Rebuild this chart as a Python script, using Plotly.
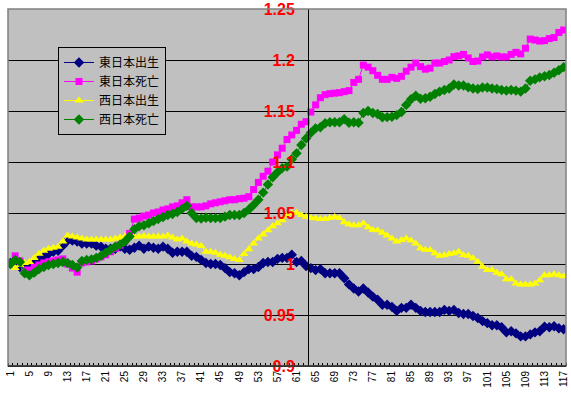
import plotly.graph_objects as go

categories = list(range(1, 118))

east_birth = [1.001, 0.999, 0.997, 0.998, 0.999, 1.002, 1.005, 1.007, 1.010, 1.012,
              1.013, 1.018, 1.023, 1.023, 1.022, 1.020, 1.020, 1.020, 1.018, 1.017,
              1.015, 1.015, 1.015, 1.017, 1.015, 1.014, 1.016, 1.018, 1.015, 1.017,
              1.016, 1.015, 1.017, 1.015, 1.011, 1.012, 1.012, 1.012, 1.008, 1.007,
              1.004, 1.001, 1.000, 1.000, 0.999, 0.996, 0.992, 0.991, 0.989, 0.992,
              0.995, 0.995, 0.997, 1.001, 1.002, 1.002, 1.005, 1.006, 1.006, 1.009,
              1.002, 1.003, 0.998, 0.996, 0.994, 0.995, 0.991, 0.991, 0.991, 0.991,
              0.986, 0.980, 0.976, 0.973, 0.976, 0.972, 0.968, 0.965, 0.960, 0.960,
              0.958, 0.954, 0.957, 0.957, 0.960, 0.957, 0.954, 0.953, 0.953, 0.953,
              0.953, 0.955, 0.954, 0.955, 0.952, 0.951, 0.951, 0.949, 0.947, 0.944,
              0.942, 0.940, 0.940, 0.938, 0.933, 0.934, 0.932, 0.929, 0.929, 0.931,
              0.933, 0.934, 0.9385, 0.938, 0.939, 0.937, 0.936]

east_death = [1.001, 1.008, 1.003, 0.994, 0.994, 0.997, 0.999, 1.001, 1.002, 1.003,
              1.004, 1.005, 1.000, 0.996, 0.992, 1.001, 1.002, 1.003, 1.005, 1.007,
              1.009, 1.012, 1.0155, 1.0185, 1.022, 1.030, 1.044, 1.045, 1.047, 1.048,
              1.050, 1.051, 1.053, 1.054, 1.056, 1.057, 1.060, 1.063, 1.056, 1.056,
              1.056, 1.057, 1.059, 1.060, 1.061, 1.062, 1.063, 1.063, 1.064, 1.0645,
              1.066, 1.073, 1.080, 1.086, 1.091, 1.100, 1.107, 1.1135, 1.122, 1.1265,
              1.131, 1.137, 1.1395, 1.149, 1.156, 1.163, 1.166, 1.167, 1.1675, 1.168,
              1.169, 1.170, 1.178, 1.181, 1.195, 1.193, 1.1895, 1.185, 1.181, 1.181,
              1.183, 1.182, 1.184, 1.189, 1.193, 1.197, 1.1935, 1.191, 1.192, 1.197,
              1.197, 1.1985, 1.200, 1.2033, 1.204, 1.2055, 1.202, 1.1985, 1.199, 1.203,
              1.205, 1.203, 1.204, 1.203, 1.203, 1.2055, 1.2075, 1.206, 1.2115, 1.2205,
              1.2196, 1.2186, 1.219, 1.221, 1.222, 1.227, 1.2294]

west_birth = [1.000, 0.996, 0.999, 1.001, 1.002, 1.006, 1.010, 1.013, 1.015, 1.016,
              1.017, 1.022, 1.028, 1.027, 1.026, 1.025, 1.024, 1.024, 1.024, 1.024,
              1.024, 1.024, 1.025, 1.026, 1.027, 1.028, 1.027, 1.027, 1.0275, 1.027,
              1.027, 1.027, 1.027, 1.028, 1.026, 1.024, 1.025, 1.022, 1.020, 1.019,
              1.0176, 1.012, 1.012, 1.011, 1.009, 1.008, 1.0066, 1.005, 1.004, 1.0098,
              1.0144, 1.020, 1.025, 1.029, 1.033, 1.037, 1.040, 1.043, 1.047, 1.0497,
              1.0503, 1.048, 1.0464, 1.045, 1.0448, 1.044, 1.044, 1.045, 1.046, 1.045,
              1.041, 1.039, 1.038, 1.038, 1.040, 1.036, 1.0333, 1.033, 1.0307, 1.028,
              1.025, 1.022, 1.0235, 1.025, 1.023, 1.020, 1.0154, 1.014, 1.0137, 1.0105,
              1.008, 1.0085, 1.0098, 1.0105, 1.012, 1.0088, 1.008, 1.0056, 1.0023, 0.9974,
              0.994, 0.994, 0.9915, 0.990, 0.985, 0.985, 0.981, 0.980, 0.980, 0.980,
              0.981, 0.984, 0.989, 0.989, 0.990, 0.989, 0.988]

west_death = [1.000, 1.004, 1.002, 0.991, 0.989, 0.9915, 0.995, 0.997, 0.999, 1.000,
              1.001, 1.002, 1.001, 0.999, 0.9965, 1.003, 1.004, 1.0045, 1.006, 1.008,
              1.011, 1.014, 1.017, 1.019, 1.022, 1.027, 1.034, 1.037, 1.038, 1.040,
              1.042, 1.044, 1.046, 1.048, 1.049, 1.051, 1.054, 1.057, 1.050, 1.045,
              1.0445, 1.0454, 1.045, 1.045, 1.045, 1.0464, 1.048, 1.048, 1.048, 1.050,
              1.0535, 1.058, 1.063, 1.070, 1.078, 1.085, 1.090, 1.094, 1.0955, 1.1027,
              1.1085, 1.1167, 1.123, 1.1287, 1.133, 1.134, 1.138, 1.139, 1.139, 1.139,
              1.142, 1.1385, 1.139, 1.1385, 1.148, 1.150, 1.148, 1.147, 1.1438, 1.144,
              1.1444, 1.146, 1.149, 1.156, 1.1615, 1.165, 1.162, 1.1625, 1.164, 1.1667,
              1.169, 1.1706, 1.172, 1.176, 1.175, 1.175, 1.1732, 1.172, 1.1716, 1.173,
              1.173, 1.172, 1.1715, 1.1706, 1.170, 1.1706, 1.170, 1.169, 1.172, 1.1797,
              1.181, 1.183, 1.184, 1.1853, 1.1875, 1.190, 1.193]

series_names = ["東日本出生", "東日本死亡", "西日本出生", "西日本死亡"]
x_tick_vals = list(range(1, 118, 4))
x_tick_text = [str(v) for v in x_tick_vals]
y_tick_vals = [0.9, 0.95, 1.0, 1.05, 1.1, 1.15, 1.2, 1.25]
y_tick_text = ["0.9", "0.95", "1", "1.05", "1.1", "1.15", "1.2", "1.25"]
y_axis_cross = 63.4

styles = [
    dict(color="#000080", symbol="diamond", size=8),
    dict(color="#FF00FF", symbol="square", size=7),
    dict(color="#FFFF00", symbol="triangle-up", size=8),
    dict(color="#008000", symbol="diamond", size=8),
]

fig = go.Figure()
for name, vals, st in zip(series_names, [east_birth, east_death, west_birth, west_death], styles):
    fig.add_trace(go.Scatter(
        x=categories, y=vals, name=name, mode="lines+markers",
        line=dict(color=st["color"], width=1),
        marker=dict(color=st["color"], symbol=st["symbol"], size=st["size"], line=dict(width=0)),
    ))

fig.update_layout(
    width=571, height=398,
    margin=dict(l=8, r=5, t=9, b=32, autoexpand=False),
    paper_bgcolor="white",
    plot_bgcolor="#C0C0C0",
    showlegend=True,
    legend=dict(
        x=0.0896, y=0.8936, xanchor="left", yanchor="top",
        bgcolor="#C0C0C0", bordercolor="black", borderwidth=1,
        font=dict(family="Noto Sans CJK JP", size=12, color="black"),
        tracegroupgap=0, entrywidth=86,
    ),
    xaxis=dict(
        range=[0.5, 117.5], automargin=False,
        tickmode="array", tickvals=x_tick_vals, ticktext=x_tick_text,
        tickangle=-90, ticks="",
        tickfont=dict(family="Liberation Sans", size=10, color="black"),
        showgrid=False, zeroline=False,
        showline=True, linecolor="black", linewidth=1,
        minor=dict(tickmode="linear", tick0=0.5, dtick=1, ticks="inside",
                   ticklen=3, tickcolor="black", showgrid=False),
    ),
    yaxis=dict(
        range=[0.9, 1.25], automargin=False,
        tickmode="array", tickvals=y_tick_vals, ticktext=y_tick_text,
        anchor="free", position=(y_axis_cross - 0.5) / 117.0,
        ticks="", ticklabelstandoff=10,
        tickfont=dict(family="Liberation Sans", size=16, color="#FF0000", weight="bold"),
        showgrid=True, gridcolor="black", gridwidth=1,
        zeroline=False,
        showline=True, linecolor="black", linewidth=1,
    ),
    shapes=[
        dict(type="rect", xref="paper", yref="paper", x0=0, x1=1, y0=0, y1=1,
             line=dict(color="#808080", width=1.5), layer="above"),
        dict(type="line", xref="paper", yref="paper", x0=0, x1=1, y0=0, y1=0,
             line=dict(color="black", width=1), layer="above"),
    ],
)

fig.write_html(
    "out.html",
    config={"displayModeBar": False},
    post_script="document.body.style.margin='0';document.body.style.padding='0';",
)
